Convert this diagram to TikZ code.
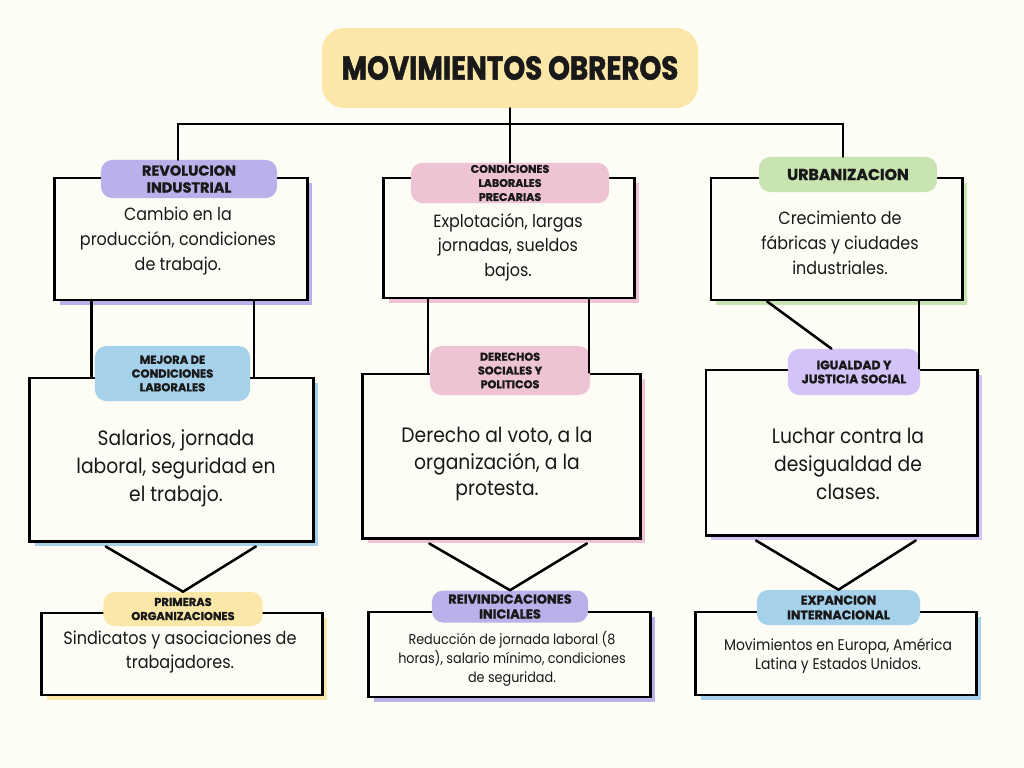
\documentclass[tikz,border=0pt]{standalone}
\usepackage{fontspec}
\setmainfont{Poppins}
\newfontfamily\bodyfont{Poppins}[FakeStretch=0.9]
\newfontfamily\tagfont{Poppins}[BoldFeatures={FakeBold=1.2}]
\newfontfamily\titlefont{Poppins}[FakeStretch=0.84, BoldFeatures={FakeBold=1.5}]
\usepackage{xcolor}
\definecolor{paper}{HTML}{FDFCF5}
\definecolor{lavA}{HTML}{B9B1E9}
\definecolor{lavF}{HTML}{D3C3F9}
\definecolor{pinkB}{HTML}{EEC4D5}
\definecolor{grnC}{HTML}{C8E4B0}
\definecolor{bluD}{HTML}{A6D1EB}
\definecolor{ylwG}{HTML}{FBE8A8}
\usepackage{tikz}
\usetikzlibrary{calc,shadows}

\begin{document}
\begin{tikzpicture}[x=0.025cm, y=-0.025cm,
  cardbox/.style={draw=black, line width=2.1pt, fill=paper, inner sep=0pt,
    general shadow={fill=#1, shadow xshift=3.5pt, shadow yshift=-3.5pt}},
  tagpill/.style={fill=#1, rounded corners=8pt, inner sep=0pt, align=center, text=black!90},
  cardtext/.style={align=center, text=black!90},
  joiner/.style={line width=1.8pt, line cap=round, line join=round}]
  \fill[paper] (0,0) rectangle (1024,768);
  \useasboundingbox (0,0) rectangle (1024,768);
  % ------- title -------
  \node[tagpill=ylwG, rounded corners=16pt, minimum width=9.4cm, minimum height=2cm,
    font=\titlefont\bfseries\fontsize{23.5}{26}\selectfont] (title) at (510,68) {MOVIMIENTOS OBREROS};
  % ------- first row -------
  \node[cardbox=lavA, minimum width=6.3cm, minimum height=3.05cm] (revBox) at (181,239) {};
  \node[cardbox=pinkB, minimum width=6.25cm, minimum height=3cm] (condBox) at (509,238) {};
  \node[cardbox=grnC, minimum width=6.275cm, minimum height=3.05cm] (urbBox) at (836.5,239) {};
  \node[cardtext, font=\bodyfont\fontsize{12.6}{18}\selectfont] (revText) at (178,241)
    {Cambio en la\\producción, condiciones\\de trabajo.};
  \node[cardtext, font=\bodyfont\fontsize{12.6}{17.5}\selectfont] (condText) at (508,247)
    {Explotación, largas\\jornadas, sueldos\\bajos.};
  \node[cardtext, font=\bodyfont\fontsize{12.6}{18}\selectfont] (urbText) at (840,243)
    {Crecimiento de\\fábricas y ciudades\\industriales.};
  \node[tagpill=lavA, minimum width=4.4cm, minimum height=0.95cm,
    font=\tagfont\bfseries\fontsize{10.3}{12}\selectfont] (revLab) at (189,179) {REVOLUCION\\INDUSTRIAL};
  \node[tagpill=pinkB, minimum width=4.95cm, minimum height=1cm,
    font=\tagfont\bfseries\fontsize{7.9}{10}\selectfont] (condLab) at (510,183) {CONDICIONES\\LABORALES\\PRECARIAS};
  \node[tagpill=grnC, minimum width=4.45cm, minimum height=0.875cm,
    font=\tagfont\bfseries\fontsize{11.2}{12}\selectfont] (urbLab) at (848,174.5) {URBANIZACION};
  % ------- second row -------
  \node[cardbox=bluD, minimum width=7.075cm, minimum height=4.075cm] (mejBox) at (171.5,459.5) {};
  \node[cardbox=pinkB, minimum width=6.925cm, minimum height=4.1cm] (derBox) at (501.5,456) {};
  \node[cardbox=lavF, minimum width=6.775cm, minimum height=4.125cm] (igBox) at (841.5,452.5) {};
  \node[cardtext, font=\bodyfont\fontsize{14.8}{20}\selectfont] (mejText) at (176,468)
    {Salarios, jornada\\laboral, seguridad en\\el trabajo.};
  \node[cardtext, font=\bodyfont\fontsize{14.8}{19}\selectfont] (derText) at (497,464)
    {Derecho al voto, a la\\organización, a la\\protesta.};
  \node[cardtext, font=\bodyfont\fontsize{14.8}{20}\selectfont] (igText) at (848,464)
    {Luchar contra la\\desigualdad de\\clases.};
  \node[tagpill=bluD, minimum width=3.875cm, minimum height=1.375cm,
    font=\tagfont\bfseries\fontsize{8.2}{9.8}\selectfont] (mejLab) at (172.5,373.5) {MEJORA DE\\CONDICIONES\\LABORALES};
  \node[tagpill=pinkB, minimum width=4cm, minimum height=1.225cm,
    font=\tagfont\bfseries\fontsize{8}{9.8}\selectfont] (derLab) at (510,370.5) {DERECHOS\\SOCIALES Y\\POLITICOS};
  \node[tagpill=lavF, minimum width=3.3cm, minimum height=1.15cm,
    font=\tagfont\bfseries\fontsize{8.8}{10}\selectfont] (igLab) at (854,372) {IGUALDAD Y\\JUSTICIA SOCIAL};
  % ------- third row -------
  \node[cardbox=ylwG, minimum width=7cm, minimum height=2.05cm] (primBox) at (182,654) {};
  \node[cardbox=lavA, minimum width=7.025cm, minimum height=2.125cm] (reivBox) at (509.5,654.5) {};
  \node[cardbox=bluD, minimum width=7cm, minimum height=2.075cm] (expBox) at (836,653.5) {};
  \node[cardtext, font=\bodyfont\fontsize{12.7}{16.5}\selectfont] (primText) at (180,652)
    {Sindicatos y asociaciones de\\trabajadores.};
  \node[cardtext, font=\bodyfont\fontsize{10.1}{13.5}\selectfont] (reivText) at (512,659)
    {Reducción de jornada laboral (8\\horas), salario mínimo, condiciones\\de seguridad.};
  \node[cardtext, font=\bodyfont\fontsize{11}{14}\selectfont] (expText) at (838,656)
    {Movimientos en Europa, América\\Latina y Estados Unidos.};
  \node[tagpill=ylwG, minimum width=3.975cm, minimum height=0.85cm,
    font=\tagfont\bfseries\fontsize{8.1}{10}\selectfont] (primLab) at (183,609) {PRIMERAS\\ORGANIZACIONES};
  \node[tagpill=lavA, minimum width=3.9cm, minimum height=0.8cm,
    font=\tagfont\bfseries\fontsize{9.2}{10.6}\selectfont] (reivLab) at (510,606.5) {REIVINDICACIONES\\INICIALES};
  \node[tagpill=bluD, minimum width=4.075cm, minimum height=0.875cm,
    font=\tagfont\bfseries\fontsize{9}{10.6}\selectfont] (expLab) at (838.5,607.5) {EXPANCION\\INTERNACIONAL};
  % ------- links from the title -------
  \coordinate (barL) at (178,124);
  \coordinate (barR) at (843,124);
  \draw[joiner] (title.south) -- (title.south |- barL);
  \draw[joiner] (barL) -- (barR);
  \draw[joiner] (barL) -- (barL |- revLab.north);
  \draw[joiner] (title.south |- barL) -- (title.south |- condLab.north);
  \draw[joiner] (barR) -- (barR |- urbLab.north);
  % ------- links between rows -------
  \foreach \up/\f/\dn in {revBox/0.15/mejBox, revBox/0.786/mejBox, condBox/0.18/derBox,
      condBox/0.816/derBox, urbBox/0.825/igBox}
    \draw[joiner] ($(\up.south west)!\f!(\up.south east)$) coordinate (p) -- (p |- \dn.north);
  \draw[joiner] ($(urbBox.south west)!0.227!(urbBox.south east)$)
    -- ($(igLab.north west)!0.33!(igLab.north east)$);
  \foreach \up/\fa/\fb/\dn in {mejBox/0.27/0.795/primLab, derBox/0.242/0.805/reivLab,
      igBox/0.188/0.771/expLab}
    \draw[joiner] ($(\up.south west)!\fa!(\up.south east)+(0,4)$) -- (\dn.north)
      -- ($(\up.south west)!\fb!(\up.south east)+(0,4)$);
\end{tikzpicture}
\end{document}
